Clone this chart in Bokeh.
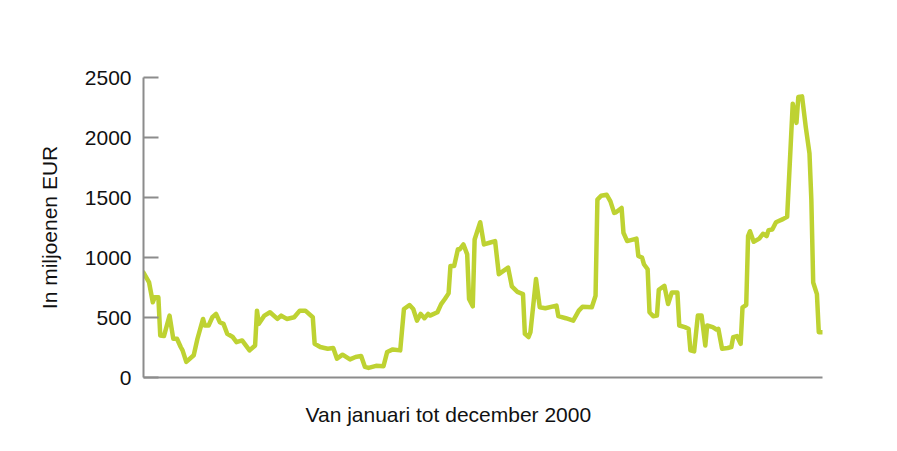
from bokeh.plotting import figure
from bokeh.models import FixedTicker, Range1d, Title
from bokeh.embed import file_html
from bokeh.resources import INLINE

# Day of year 2000 (1..366) and value in millions of EUR
days = [1, 4, 6, 7, 9, 10, 12, 15, 17, 19, 21, 22, 24, 28, 30, 33, 34, 36, 38, 40,
        42, 44, 46, 49, 51, 54, 58, 61, 62, 63, 66, 69, 73, 75, 78, 82, 85, 88, 92, 93,
        96, 100, 103, 105, 108, 112, 115, 118, 120, 122, 126, 130, 132, 135, 139, 141, 144, 146, 148, 150,
        152, 154, 155, 159, 161, 163, 165, 166, 168, 170, 171, 173, 175, 176, 178, 179, 182, 184, 187, 190,
        192, 197, 199, 202, 205, 206, 208, 209, 212, 214, 217, 223, 224, 228, 232, 235, 237, 242, 244, 245,
        247, 250, 252, 254, 255, 258, 259, 261, 266, 267, 269, 270, 272, 273, 275, 277, 278, 281, 283, 285,
        288, 289, 292, 294, 295, 297, 299, 301, 303, 304, 307, 309, 310, 312, 315, 317, 318, 320, 322, 323,
        325, 326, 327, 329, 332, 334, 336, 337, 339, 341, 345, 347, 350, 352, 353, 355, 357, 359, 360, 361,
        363, 364, 366]
values = [875, 792, 627, 668, 668, 350, 345, 516, 323, 323, 254, 226, 130, 185, 323, 488, 433, 433, 502, 530,
          461, 447, 364, 337, 295, 309, 226, 267, 557, 447, 516, 544, 488, 516, 488, 502, 557, 557, 502, 281,
          254, 240, 246, 157, 190, 151, 171, 180, 89, 80, 97, 94, 213, 234, 226, 571, 604, 571, 474, 530,
          494, 530, 516, 544, 612, 654, 701, 930, 930, 1068, 1068, 1109, 1026, 654, 593, 1150, 1294, 1109, 1123, 1137,
          861, 916, 759, 714, 695, 364, 337, 378, 820, 585, 577, 599, 511, 494, 474, 557, 590, 585, 681, 1482,
          1515, 1523, 1468, 1372, 1377, 1413, 1206, 1137, 1157, 1013, 999, 944, 902, 544, 511, 516, 731, 764, 612, 709,
          709, 433, 420, 406, 226, 218, 516, 516, 267, 433, 420, 400, 406, 240, 246, 254, 337, 345, 281, 585,
          604, 1178, 1219, 1131, 1157, 1198, 1178, 1228, 1233, 1294, 1322, 1339, 2282, 2122, 2337, 2343, 2088, 1868, 1482, 792,
          695, 378, 378]

y_ticks = [0, 500, 1000, 1500, 2000, 2500]
y_title = "In miljoenen EUR"
x_title = "Van januari tot december 2000"

FONT = "Liberation Sans"
FS = "21px"
AXIS_GREY = "#8c8c8c"
TEXT = "#111111"

p = figure(width=889, height=449, output_backend="svg", toolbar_location=None,
           x_range=Range1d(days[0], days[-1]), y_range=Range1d(0, 2500),
           min_border_left=143, min_border_right=67, min_border_top=77, min_border_bottom=71)
p.outline_line_color = None
p.grid.visible = False
p.background_fill_color = "white"
p.border_fill_color = "white"

p.line(days, values, line_color="#bed232", line_width=4.5, line_join="round", line_cap="round")

ya = p.yaxis[0]
ya.ticker = FixedTicker(ticks=y_ticks)
ya.minor_tick_line_color = None
ya.axis_line_color = AXIS_GREY
ya.axis_line_width = 2
ya.major_tick_line_color = AXIS_GREY
ya.major_tick_line_width = 2
ya.major_tick_in = 15
ya.major_tick_out = 0
ya.major_label_standoff = 12
ya.major_label_text_font = FONT
ya.major_label_text_font_size = FS
ya.major_label_text_color = TEXT
ya.axis_label = y_title
ya.axis_label_text_font = FONT
ya.axis_label_text_font_size = FS
ya.axis_label_text_font_style = "normal"
ya.axis_label_text_color = TEXT
ya.axis_label_standoff = 21

xa = p.xaxis[0]
xa.ticker = FixedTicker(ticks=[])
xa.minor_tick_line_color = None
xa.major_tick_line_color = None
xa.axis_line_color = AXIS_GREY
xa.axis_line_width = 2

p.add_layout(Title(text=x_title, align="left", offset=162, standoff=47,
                   text_font=FONT, text_font_size=FS, text_font_style="normal",
                   text_color=TEXT), "below")

open("out.html", "w").write(file_html(p, INLINE))
